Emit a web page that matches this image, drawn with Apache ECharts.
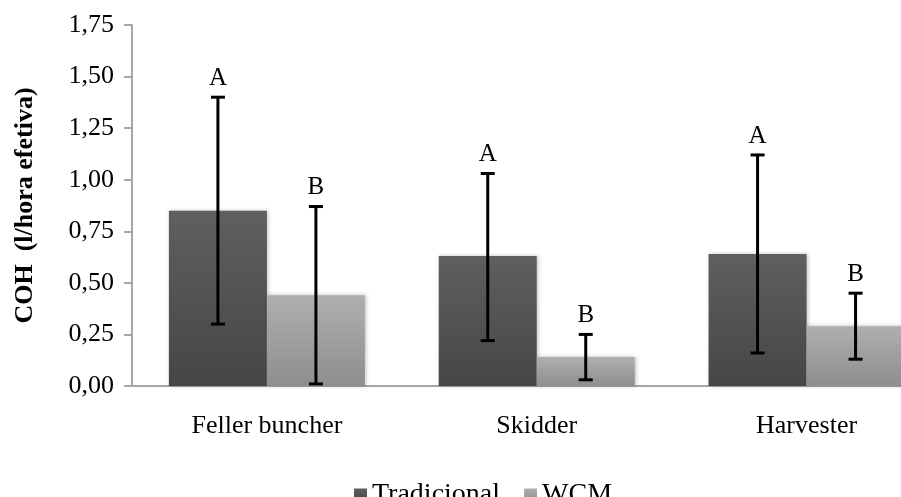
<!DOCTYPE html>
<html>
<head>
<meta charset="utf-8">
<script src="https://cdn.jsdelivr.net/npm/echarts@6/dist/echarts.min.js"></script>
<style>
    html, body { margin: 0; padding: 0; background: #fff; }
    #chart { width: 901px; height: 497px; }
</style>
</head>
<body>
<div id="chart"></div>
<script>
// dados
const categories = ['Feller buncher', 'Skidder', 'Harvester'];
const tradicional = [0.85, 0.63, 0.64];
const wcm = [0.44, 0.14, 0.29];
const tradLow = [0.30, 0.22, 0.16];
const tradHigh = [1.40, 1.03, 1.12];
const wcmLow = [0.01, 0.03, 0.13];
const wcmHigh = [0.87, 0.25, 0.45];
const tradLetters = ['A', 'A', 'A'];
const wcmLetters = ['B', 'B', 'B'];

const serif = '"Liberation Serif", "DejaVu Serif", serif';
const barW = 98;

(function () {
    const myChart = echarts.init(document.getElementById('chart'));

    const darkFill = new echarts.graphic.LinearGradient(0, 0, 0, 1, [
        { offset: 0, color: '#5f5f5f' },
        { offset: 1, color: '#464646' }
    ]);
    const lightFill = new echarts.graphic.LinearGradient(0, 0, 0, 1, [
        { offset: 0, color: '#afafaf' },
        { offset: 1, color: '#8e8e8e' }
    ]);

    // barra de erro + letra, deslocada para a barra certa do grupo
    function errorItem(side) {
        return function (params, api) {
            const idx = api.value(0);
            const top = api.coord([idx, api.value(2)]);
            const bot = api.coord([idx, api.value(1)]);
            const x = top[0] + side * barW / 2;
            const half = 7;
            const style = { stroke: '#000', lineWidth: 3 };
            return {
                type: 'group',
                children: [
                    { type: 'line', shape: { x1: x, y1: top[1], x2: x, y2: bot[1] }, style: style },
                    { type: 'line', shape: { x1: x - half, y1: top[1], x2: x + half, y2: top[1] }, style: style },
                    { type: 'line', shape: { x1: x - half, y1: bot[1], x2: x + half, y2: bot[1] }, style: style },
                    {
                        type: 'text',
                        x: x,
                        y: top[1] - 19,
                        style: {
                            text: api.value(3),
                            fill: '#000',
                            font: '25px ' + serif,
                            align: 'center',
                            verticalAlign: 'middle'
                        }
                    }
                ]
            };
        };
    }

    const shadow = {
        shadowBlur: 4,
        shadowColor: 'rgba(0,0,0,0.25)',
        shadowOffsetX: 1,
        shadowOffsetY: 0
    };

    myChart.setOption({
        animation: false,
        backgroundColor: '#fff',
        grid: {
            left: 132,
            top: 25,
            right: 0,
            bottom: 111
        },
        legend: {
            data: ['Tradicional', 'WCM'],
            left: 349,
            top: 476,
            icon: 'rect',
            itemWidth: 13,
            itemHeight: 13,
            itemGap: 24,
            textStyle: {
                fontFamily: serif,
                fontSize: 28,
                color: '#000'
            }
        },
        // eixo x numerico: o grafico original esta cortado na direita
        xAxis: {
            type: 'value',
            min: -0.5,
            max: 2.35,
            splitLine: { show: false },
            axisLine: { show: true, onZero: false, lineStyle: { color: '#a6a6a6', width: 2 } },
            axisTick: { show: false },
            axisLabel: {
                customValues: [0, 1, 2],
                margin: 27,
                fontFamily: serif,
                fontSize: 26,
                color: '#000',
                formatter: (v) => categories[Math.round(v)] || ''
            }
        },
        yAxis: {
            type: 'value',
            min: 0,
            max: 1.75,
            interval: 0.25,
            name: 'COH  (l/hora efetiva)',
            nameLocation: 'middle',
            nameGap: 94,
            nameTextStyle: {
                fontFamily: serif,
                fontSize: 26,
                fontWeight: 'bold',
                color: '#000'
            },
            splitLine: { show: false },
            axisLine: { show: true, onZero: false, lineStyle: { color: '#a6a6a6', width: 2 } },
            axisTick: { show: true, length: 8, lineStyle: { color: '#a6a6a6', width: 2 } },
            axisLabel: {
                margin: 18,
                fontFamily: serif,
                fontSize: 26,
                color: '#000',
                formatter: (v) => v.toFixed(2).replace('.', ',')
            }
        },
        series: [
            {
                name: 'Tradicional',
                type: 'bar',
                data: tradicional.map((v, i) => [i, v]),
                barWidth: barW,
                barGap: '0%',
                itemStyle: Object.assign({ color: darkFill }, shadow)
            },
            {
                name: 'WCM',
                type: 'bar',
                data: wcm.map((v, i) => [i, v]),
                barWidth: barW,
                barGap: '0%',
                itemStyle: Object.assign({ color: lightFill }, shadow)
            },
            {
                name: 'erroTrad',
                type: 'custom',
                renderItem: errorItem(-1),
                data: categories.map((c, i) => [i, tradLow[i], tradHigh[i], tradLetters[i]]),
                z: 5
            },
            {
                name: 'erroWcm',
                type: 'custom',
                renderItem: errorItem(1),
                data: categories.map((c, i) => [i, wcmLow[i], wcmHigh[i], wcmLetters[i]]),
                z: 5
            }
        ]
    });
})();
</script>
</body>
</html>
